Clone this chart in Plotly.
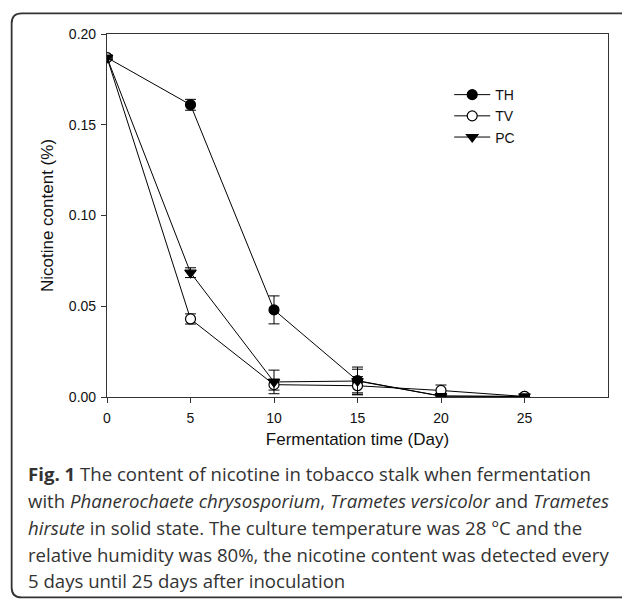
import plotly.graph_objects as go

# ---- data ----
days = [0, 5, 10, 15, 20, 25]
th_vals = [0.187, 0.161, 0.048, 0.009, 0.0005, 0.0003]
th_err = [0.001, 0.003, 0.0077, 0.0075, 0.0008, 0.0008]
tv_vals = [0.187, 0.043, 0.0068, 0.0062, 0.0036, 0.0003]
tv_err = [0.001, 0.0028, 0.003, 0.005, 0.003, 0.0008]
pc_vals = [0.187, 0.0685, 0.0083, 0.0088, 0.0005, 0.0003]
pc_err = [0.001, 0.0027, 0.0065, 0.0065, 0.0008, 0.0008]
x_ticks = [0, 5, 10, 15, 20, 25]
y_ticks = [0.00, 0.05, 0.10, 0.15, 0.20]
y_tick_labels = ["0.00", "0.05", "0.10", "0.15", "0.20"]

W, H = 622, 599
L, R, T, B = 107, 14.3, 34, 202.3
PW, PH = W - L - R, H - T - B

def xp(px):
    return (px - L) / PW

def yp(py):
    return (H - B - py) / PH

fig = go.Figure()

def add(name, vals, err, symbol, fill):
    fig.add_trace(go.Scatter(
        x=days, y=vals, name=name, mode="lines+markers",
        line=dict(color="black", width=1),
        marker=dict(symbol=symbol, size=10, color=fill,
                    line=dict(color="black", width=1.2)),
        error_y=dict(type="data", array=err, visible=True, color="black",
                     thickness=1, width=5.5),
    ))

add("TH", th_vals, th_err, "circle", "black")
add("TV", tv_vals, tv_err, "circle", "white")
add("PC", pc_vals, pc_err, "triangle-down", "black")

ARIAL = "Arial, Liberation Sans, sans-serif"
axis_font = dict(family=ARIAL, size=14, color="#111")
title_font = dict(family=ARIAL, size=17, color="#111")

fig.update_xaxes(range=[0, 30], tickvals=x_ticks, ticks="outside", ticklen=5,
                 tickcolor="#333", showline=True, linecolor="#333", linewidth=1.2,
                 mirror=True, showgrid=False, zeroline=False, tickfont=axis_font,
                 ticklabelstandoff=3,
                 title=dict(text="Fermentation time (Day)", standoff=8, font=title_font))
fig.update_yaxes(range=[0, 0.2], tickvals=y_ticks, ticktext=y_tick_labels,
                 ticks="outside", ticklen=5, tickcolor="#333", showline=True,
                 linecolor="#333", linewidth=1.2, mirror=True, showgrid=False,
                 zeroline=False, tickfont=axis_font, ticklabelstandoff=2,
                 title=dict(text="Nicotine content (%)", standoff=10, font=title_font))

# rounded border
r = 10
bl, bt, bb, br = 11.7, 13.3, 597, 660
path = (f"M {xp(bl)},{yp(bb - r)} L {xp(bl)},{yp(bt + r)} "
        f"Q {xp(bl)},{yp(bt)} {xp(bl + r)},{yp(bt)} L {xp(br)},{yp(bt)} "
        f"M {xp(bl)},{yp(bb - r)} Q {xp(bl)},{yp(bb)} {xp(bl + r)},{yp(bb)} L {xp(br)},{yp(bb)}")
fig.add_shape(type="path", path=path, xref="paper", yref="paper",
              line=dict(color="#333", width=1.8))

caption_lines = [
    "<b>Fig. 1</b> The content of nicotine in tobacco stalk when fermentation",
    "with <i>Phanerochaete chrysosporium</i>, <i>Trametes versicolor</i> and <i>Trametes</i>",
    "<i>hirsute</i> in solid state. The culture temperature was 28 °C and the",
    "relative humidity was 80%, the nicotine content was detected every",
    "5 days until 25 days after inoculation",
]
caption_y = [473.5, 500.2, 526.9, 553.6, 580.3]
for line, cy in zip(caption_lines, caption_y):
    fig.add_annotation(text=line, xref="paper", yref="paper", x=xp(26), y=yp(cy),
                       xanchor="left", yanchor="middle", showarrow=False,
                       font=dict(family="Open Sans, sans-serif", size=18.6, color="#333"))

fig.update_layout(
    width=W, height=H, margin=dict(l=L, r=R, t=T, b=B),
    paper_bgcolor="white", plot_bgcolor="white",
    showlegend=True,
    legend=dict(x=xp(449), y=yp(79), xanchor="left", yanchor="top",
                bgcolor="rgba(0,0,0,0)", borderwidth=0, tracegroupgap=0,
                itemwidth=36,
                font=dict(family=ARIAL, size=14, color="#111")),
)

fig.write_html("out.html")
